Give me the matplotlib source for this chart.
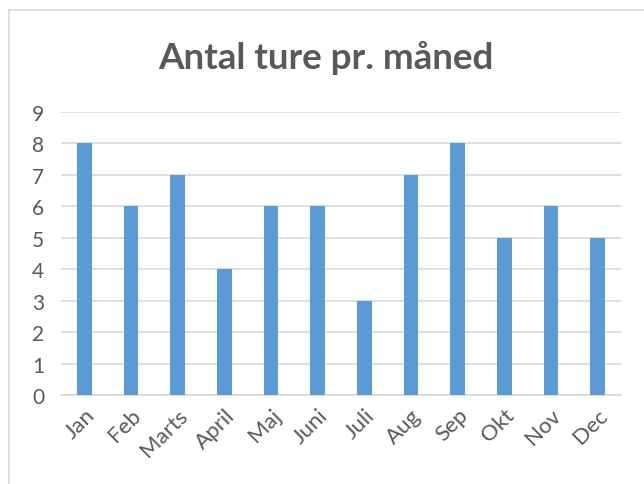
import matplotlib.pyplot as plt
from matplotlib.patches import Rectangle

maaneder = ['Jan', 'Feb', 'Marts', 'April', 'Maj', 'Juni', 'Juli', 'Aug', 'Sep', 'Okt', 'Nov', 'Dec']
ture = [8, 6, 7, 4, 6, 6, 3, 7, 8, 5, 6, 5]

plt.rcParams['font.family'] = ['Lato', 'DejaVu Sans']
grey = '#595959'

fig = plt.figure(figsize=(6.44, 4.85), dpi=100)
# chart area border (Excel style), runs off right/bottom edge
fig.patches.append(Rectangle((8.5 / 644, -0.1), 1.0, 1 - 11 / 485 + 0.1,
                             transform=fig.transFigure, fill=False,
                             edgecolor='#D9D9D9', linewidth=1.2))

ax = fig.add_axes([61 / 644, 1 - 396 / 485, (621 - 61) / 644, (396 - 113) / 485])
x = range(len(maaneder))
ax.bar(x, ture, width=0.31, color='#5B9BD5', zorder=3)
ax.set_xlim(-0.5, len(maaneder) - 0.5)
ax.set_ylim(0, 9)
ax.set_yticks(range(10))
ax.grid(axis='y', color='#D9D9D9', linewidth=1.2, zorder=0)
for s in ['top', 'right', 'left']:
    ax.spines[s].set_visible(False)
ax.spines['bottom'].set_color('#D9D9D9')
ax.spines['bottom'].set_linewidth(1.2)
ax.tick_params(length=0, labelsize=15, colors=grey, pad=7)
ax.set_xticks(list(x))
ax.set_xticklabels(maaneder, rotation=45, ha='right', rotation_mode='anchor', fontsize=16)
ax.tick_params(axis='y', pad=12)

fig.text(0.506, 1 - 58 / 485, 'Antal ture pr. måned', ha='center', va='center',
         fontsize=26.5, fontweight='bold', color=grey)

fig.savefig('out.png', dpi=100)
